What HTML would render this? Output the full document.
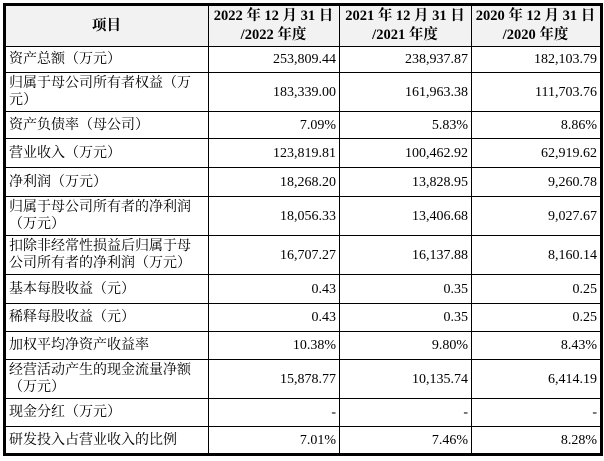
<!DOCTYPE html>
<html><head><meta charset="utf-8"><style>
body{margin:0;background:#fff;width:604px;height:461px;overflow:hidden}
table{position:absolute;left:3px;top:3px;border-collapse:collapse;border:3px solid #000;font-family:"Liberation Serif","Noto Serif CJK SC",serif;font-size:14px;color:#000;table-layout:fixed}
td{border:1px solid #000;padding:0 4px 0 3px;line-height:17px;vertical-align:middle}
td.n{text-align:right;padding-right:3px}
tr.h td{background:#f2f2f2;font-weight:bold;text-align:center;line-height:19px;font-size:14.5px}
</style></head><body>
<table>
<colgroup><col style="width:204px"><col style="width:131px"><col style="width:132px"><col style="width:130px"></colgroup>
<tr class="h" style="height:42px"><td>项目</td><td>2022 年 12 月 31 日<br>/2022 年度</td><td>2021 年 12 月 31 日<br>/2021 年度</td><td>2020 年 12 月 31 日<br>/2020 年度</td></tr>
<tr style="height:26px"><td>资产总额（万元）</td><td class="n">253,809.44</td><td class="n">238,937.87</td><td class="n">182,103.79</td></tr>
<tr style="height:39px"><td>归属于母公司所有者权益（万元）</td><td class="n">183,339.00</td><td class="n">161,963.38</td><td class="n">111,703.76</td></tr>
<tr style="height:27px"><td>资产负债率（母公司）</td><td class="n">7.09%</td><td class="n">5.83%</td><td class="n">8.86%</td></tr>
<tr style="height:29px"><td>营业收入（万元）</td><td class="n">123,819.81</td><td class="n">100,462.92</td><td class="n">62,919.62</td></tr>
<tr style="height:29px"><td>净利润（万元）</td><td class="n">18,268.20</td><td class="n">13,828.95</td><td class="n">9,260.78</td></tr>
<tr style="height:39px"><td>归属于母公司所有者的净利润（万元）</td><td class="n">18,056.33</td><td class="n">13,406.68</td><td class="n">9,027.67</td></tr>
<tr style="height:39px"><td>扣除非经常性损益后归属于母公司所有者的净利润（万元）</td><td class="n">16,707.27</td><td class="n">16,137.88</td><td class="n">8,160.14</td></tr>
<tr style="height:29px"><td>基本每股收益（元）</td><td class="n">0.43</td><td class="n">0.35</td><td class="n">0.25</td></tr>
<tr style="height:28px"><td>稀释每股收益（元）</td><td class="n">0.43</td><td class="n">0.35</td><td class="n">0.25</td></tr>
<tr style="height:28px"><td>加权平均净资产收益率</td><td class="n">10.38%</td><td class="n">9.80%</td><td class="n">8.43%</td></tr>
<tr style="height:39px"><td>经营活动产生的现金流量净额（万元）</td><td class="n">15,878.77</td><td class="n">10,135.74</td><td class="n">6,414.19</td></tr>
<tr style="height:28px"><td>现金分红（万元）</td><td class="n">-</td><td class="n">-</td><td class="n">-</td></tr>
<tr style="height:28px"><td>研发投入占营业收入的比例</td><td class="n">7.01%</td><td class="n">7.46%</td><td class="n">8.28%</td></tr>
</table>
</body></html>
